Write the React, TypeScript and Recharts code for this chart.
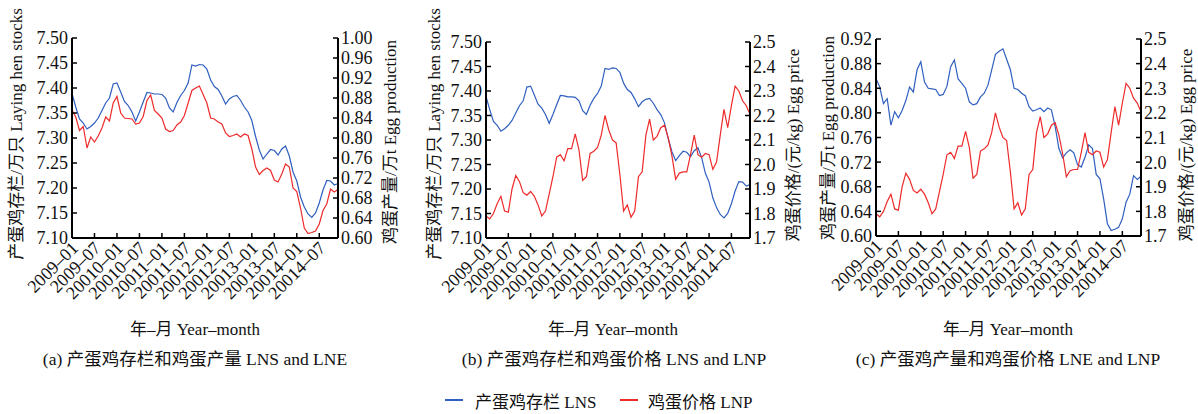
import { LineChart, Line, XAxis, YAxis } from "recharts"

const font = '"Liberation Serif", "Noto Sans CJK SC", serif'
const BLUE = "#2f5fbf"
const RED = "#ee2a2a"
const INK = "#111"

// x tick labels, one every 6 months (spelling kept as in the figure)
const tickLabels = [
  "2009–01", "2009–07", "20010–01", "20010–07", "20011–01", "20011–07",
  "20012–01", "20012–07", "20013–01", "20013–07", "20014–01", "20014–07",
]

// laying hen stocks, 2009-01 .. 2014-12
const lns = [
  7.389, 7.362, 7.338, 7.330, 7.318, 7.323, 7.330, 7.340, 7.355, 7.370, 7.380, 7.408,
  7.410, 7.392, 7.373, 7.365, 7.352, 7.334, 7.352, 7.372, 7.391, 7.390, 7.388, 7.388,
  7.387, 7.380, 7.360, 7.352, 7.371, 7.385, 7.395, 7.410, 7.446, 7.444, 7.447, 7.446,
  7.438, 7.416, 7.403, 7.397, 7.384, 7.368, 7.378, 7.383, 7.385, 7.375, 7.362, 7.352,
  7.335, 7.303, 7.276, 7.258, 7.268, 7.277, 7.275, 7.266, 7.278, 7.284, 7.264, 7.232,
  7.214, 7.182, 7.162, 7.148, 7.141, 7.150, 7.170, 7.196, 7.215, 7.214, 7.206, 7.209,
]

// egg production
const lne = [
  0.856, 0.842, 0.815, 0.823, 0.780, 0.802, 0.792, 0.804, 0.820, 0.842, 0.834, 0.870,
  0.883, 0.850, 0.840, 0.839, 0.838, 0.828, 0.830, 0.843, 0.875, 0.886, 0.855, 0.848,
  0.840, 0.818, 0.813, 0.815, 0.826, 0.832, 0.845, 0.870, 0.895, 0.900, 0.904, 0.887,
  0.870, 0.840, 0.838, 0.832, 0.828, 0.810, 0.803, 0.805, 0.808, 0.802, 0.808, 0.805,
  0.778, 0.742, 0.727, 0.735, 0.740, 0.735, 0.716, 0.712, 0.728, 0.748, 0.742, 0.700,
  0.693, 0.660, 0.620, 0.609, 0.611, 0.614, 0.628, 0.655, 0.668, 0.698, 0.692, 0.697,
]

// egg price
const lnp = [
  1.790, 1.778, 1.800, 1.840, 1.870, 1.810, 1.805, 1.900, 1.955, 1.930, 1.885, 1.875,
  1.890, 1.870, 1.835, 1.790, 1.810, 1.880, 1.950, 2.030, 2.040, 2.015, 2.065, 2.065,
  2.125, 2.060, 1.935, 1.950, 2.045, 2.054, 2.070, 2.120, 2.200, 2.142, 2.100, 2.088,
  1.960, 1.810, 1.835, 1.785, 1.810, 1.950, 1.970, 2.120, 2.185, 2.100, 2.115, 2.150,
  2.160, 2.110, 2.035, 1.940, 1.965, 1.970, 1.970, 2.040, 2.120, 2.040, 2.030, 2.045,
  2.040, 1.980, 2.010, 2.120, 2.225, 2.150, 2.240, 2.320, 2.300, 2.260, 2.240, 2.205,
]

const stockTicks = [7.1, 7.15, 7.2, 7.25, 7.3, 7.35, 7.4, 7.45, 7.5]
const outputTicks = [0.6, 0.64, 0.68, 0.72, 0.76, 0.8, 0.84, 0.88, 0.92, 0.96, 1.0]
const outputTicksC = [0.6, 0.64, 0.68, 0.72, 0.76, 0.8, 0.84, 0.88, 0.92]
const priceTicks = [1.7, 1.8, 1.9, 2.0, 2.1, 2.2, 2.3, 2.4, 2.5]

const data = lns.map((v, i) => ({ t: i, lns: v, lne: lne[i], lnp: lnp[i] }))
const xTicks = tickLabels.map((_, k) => k * 6)

function XTick(props: any) {
  const { x, y, payload } = props
  const px = x + 3
  const py = y
  return (
    <text
      x={px}
      y={py}
      transform={`rotate(-45 ${px} ${py})`}
      textAnchor="end"
      dominantBaseline="central"
      fontSize={18}
      fontFamily={font}
      fill={INK}
    >
      {tickLabels[payload.value / 6]}
    </text>
  )
}

const axisLine = { stroke: "#000", strokeWidth: 2 }
const tickLine = { stroke: "#000", strokeWidth: 1.5 }
const tickStyle = { fontSize: 18, fill: INK, fontFamily: font }

type PanelProps = {
  left: number
  width: number
  plotLeft: number
  plotRight: number
  plotTop: number
  plotBottom: number
  leftKey: string
  rightKey: string
  leftDomain: number[]
  rightDomain: number[]
  leftTicks: number[]
  rightTicks: number[]
  leftDigits: number
  rightDigits: number
}

function Panel(p: PanelProps) {
  const height = 310
  return (
    <div style={{ position: "absolute", left: p.left, top: 0 }}>
      <LineChart
        width={p.width}
        height={height}
        data={data}
        margin={{ top: p.plotTop, right: 0, bottom: 2, left: 0 }}
      >
        <XAxis
          dataKey="t"
          type="number"
          domain={[0, 71]}
          ticks={xTicks}
          interval={0}
          height={height - p.plotBottom - 2}
          axisLine={axisLine}
          tickLine={tickLine}
          tickSize={-5}
          tickMargin={12}
          tick={<XTick />}
        />
        <YAxis
          yAxisId="l"
          domain={p.leftDomain}
          ticks={p.leftTicks}
          width={p.plotLeft}
          axisLine={axisLine}
          tickLine={tickLine}
          tickSize={-5}
          tickMargin={9}
          tick={tickStyle}
          tickFormatter={(v: number) => v.toFixed(p.leftDigits)}
          interval={0}
        />
        <YAxis
          yAxisId="r"
          orientation="right"
          domain={p.rightDomain}
          ticks={p.rightTicks}
          width={p.width - p.plotRight}
          axisLine={axisLine}
          tickLine={tickLine}
          tickSize={-5}
          tickMargin={8}
          tick={tickStyle}
          tickFormatter={(v: number) => v.toFixed(p.rightDigits)}
          interval={0}
        />
        <Line yAxisId="l" dataKey={p.leftKey} stroke={BLUE} strokeWidth={1.2} dot={false} isAnimationActive={false} />
        <Line yAxisId="r" dataKey={p.rightKey} stroke={RED} strokeWidth={1.2} dot={false} isAnimationActive={false} />
      </LineChart>
    </div>
  )
}

function VTitle({ x, y, text }: { x: number; y: number; text: string }) {
  return (
    <div
      style={{
        position: "absolute",
        left: x,
        top: y,
        transform: "translate(-50%, -50%) rotate(-90deg)",
        whiteSpace: "nowrap",
        fontSize: 17,
        fontFamily: font,
        color: INK,
      }}
    >
      {text}
    </div>
  )
}

function HText({ x, y, text, size = 17 }: { x: number; y: number; text: string; size?: number }) {
  return (
    <div
      style={{
        position: "absolute",
        left: x,
        top: y,
        transform: "translate(-50%, -50%)",
        whiteSpace: "nowrap",
        fontSize: size,
        fontFamily: font,
        color: INK,
      }}
    >
      {text}
    </div>
  )
}

export default function App() {
  return (
    <div style={{ position: "relative", width: 1198, height: 414, background: "#fff", overflow: "hidden" }}>
      <style>{`body{margin:0}`}</style>
      <Panel
        left={0} width={400} plotLeft={72} plotRight={338} plotTop={38} plotBottom={238}
        leftKey="lns" rightKey="lne"
        leftDomain={[7.1, 7.5]} rightDomain={[0.6, 1.0]}
        leftTicks={stockTicks} rightTicks={outputTicks}
        leftDigits={2} rightDigits={2}
      />
      <Panel
        left={400} width={400} plotLeft={86} plotRight={350} plotTop={42} plotBottom={238}
        leftKey="lns" rightKey="lnp"
        leftDomain={[7.1, 7.5]} rightDomain={[1.7, 2.5]}
        leftTicks={stockTicks} rightTicks={priceTicks}
        leftDigits={2} rightDigits={1}
      />
      <Panel
        left={800} width={398} plotLeft={76} plotRight={341} plotTop={39} plotBottom={236}
        leftKey="lne" rightKey="lnp"
        leftDomain={[0.6, 0.92]} rightDomain={[1.7, 2.5]}
        leftTicks={outputTicksC} rightTicks={priceTicks}
        leftDigits={2} rightDigits={1}
      />

      <VTitle x={14} y={134} text="产蛋鸡存栏/万只 Laying hen stocks" />
      <VTitle x={388} y={142} text="鸡蛋产量/万t Egg production" />
      <VTitle x={432} y={134} text="产蛋鸡存栏/万只 Laying hen stocks" />
      <VTitle x={791} y={145} text="鸡蛋价格/(元/kg) Egg price" />
      <VTitle x={826} y={138} text="鸡蛋产量/万t Egg production" />
      <VTitle x={1184} y={145} text="鸡蛋价格/(元/kg) Egg price" />

      <HText x={195} y={327} text="年–月 Year–month" />
      <HText x={613} y={327} text="年–月 Year–month" />
      <HText x={1008} y={327} text="年–月 Year–month" />

      <HText x={195} y={357} size={17.5} text="(a) 产蛋鸡存栏和鸡蛋产量 LNS and LNE" />
      <HText x={614} y={357} size={17.5} text="(b) 产蛋鸡存栏和鸡蛋价格 LNS and LNP" />
      <HText x={1008} y={357} size={17.5} text="(c) 产蛋鸡产量和鸡蛋价格 LNE and LNP" />

      <div style={{ position: "absolute", left: 445, top: 399, width: 18, height: 1.5, background: BLUE }} />
      <div style={{ position: "absolute", left: 475, top: 400, transform: "translateY(-50%)", fontSize: 17, fontFamily: font, color: INK, whiteSpace: "nowrap" }}>
        产蛋鸡存栏 LNS
      </div>
      <div style={{ position: "absolute", left: 620, top: 399, width: 18, height: 1.5, background: RED }} />
      <div style={{ position: "absolute", left: 648, top: 400, transform: "translateY(-50%)", fontSize: 17, fontFamily: font, color: INK, whiteSpace: "nowrap" }}>
        鸡蛋价格 LNP
      </div>
    </div>
  )
}
